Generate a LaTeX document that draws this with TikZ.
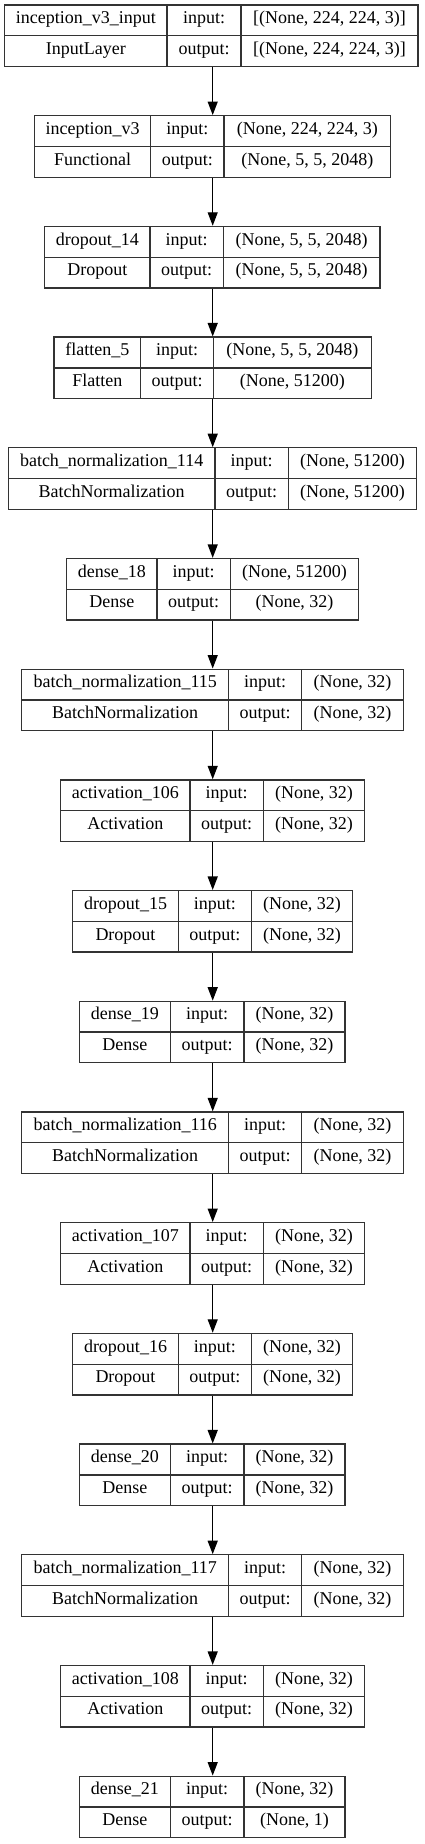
\documentclass[tikz,border=0pt]{standalone}
\usepackage{fontspec}
\setmainfont{Liberation Serif}
\usetikzlibrary{arrows.meta}
\tikzset{
  layer/.style={draw=black!80, line width=1.3pt, rectangle, inner sep=0pt, minimum height=61.5pt},
  cell/.style={draw=black!80, line width=1.3pt},
  txt/.style={inner sep=0pt, font=\fontsize{18}{20}\selectfont, text height=0.66em, text depth=0pt},
  flow/.style={draw=black, line width=1.3pt, -{Triangle[length=13.5pt,width=10pt]}}
}
\newcommand\layerbox[6]{%
  \pgfmathsetmacro\Ty{5+110.7*#2}%
  \pgfmathsetmacro\By{\Ty+61.5}%
  \pgfmathsetmacro\My{\Ty+30.75}%
  \pgfmathsetmacro\Cx{(#3+#4)/2}%
  \pgfmathsetmacro\Wd{#4-#3}%
  \pgfmathsetmacro\Xa{(#3+#5)/2}%
  \pgfmathsetmacro\Xb{(#5+#6)/2}%
  \pgfmathsetmacro\Xc{(#6+#4)/2}%
  \pgfmathsetmacro\Ya{(\Ty+\My)/2}%
  \pgfmathsetmacro\Yb{(\My+\By)/2}%
  \node[layer, minimum width=\Wd pt] (#1) at (\Cx pt,-\My pt) {};
  \draw[cell] (#5pt,-\Ty pt) -- (#5pt,-\By pt);
  \draw[cell] (#6pt,-\Ty pt) -- (#6pt,-\By pt);
  \draw[cell] (#3pt,-\My pt) -- (#4pt,-\My pt);
}
\newcommand\layertext[5]{%
  \node[txt] (#1-n) at (\Xa pt,-\Ya pt) {#2};
  \node[txt] (#1-i) at (\Xb pt,-\Ya pt) {input:};
  \node[txt] (#1-s) at (\Xc pt,-\Ya pt) {#4};
  \node[txt] (#1-c) at (\Xa pt,-\Yb pt) {#3};
  \node[txt] (#1-o) at (\Xb pt,-\Yb pt) {output:};
  \node[txt] (#1-t) at (\Xc pt,-\Yb pt) {#5};
}
\begin{document}
\begin{tikzpicture}
\useasboundingbox (0,0) rectangle (425pt,-1844pt);
\fill[white] (0,0) rectangle (425pt,-1844pt);

\layerbox{L1}{0}{4.7}{418}{167}{241}
\layertext{L1}{inception\_v3\_input}{InputLayer}{[(None, 224, 224, 3)]}{[(None, 224, 224, 3)]}
\layerbox{L2}{1}{34.7}{390.7}{150.7}{224}
\layertext{L2}{inception\_v3}{Functional}{(None, 224, 224, 3)}{(None, 5, 5, 2048)}
\layerbox{L3}{2}{44.7}{380}{150}{223.3}
\layertext{L3}{dropout\_14}{Dropout}{(None, 5, 5, 2048)}{(None, 5, 5, 2048)}
\layerbox{L4}{3}{54}{371.3}{140.7}{213.3}
\layertext{L4}{flatten\_5}{Flatten}{(None, 5, 5, 2048)}{(None, 51200)}
\layerbox{L5}{4}{8.3}{416.7}{215}{288.3}
\layertext{L5}{batch\_normalization\_114}{BatchNormalization}{(None, 51200)}{(None, 51200)}
\layerbox{L6}{5}{66.7}{358.7}{157}{230.3}
\layertext{L6}{dense\_18}{Dense}{(None, 51200)}{(None, 32)}
\layerbox{L7}{6}{21.7}{403.3}{228.7}{301.7}
\layertext{L7}{batch\_normalization\_115}{BatchNormalization}{(None, 32)}{(None, 32)}
\layerbox{L8}{7}{60.7}{364.7}{190}{263.3}
\layertext{L8}{activation\_106}{Activation}{(None, 32)}{(None, 32)}
\layerbox{L9}{8}{72.7}{352.7}{178.3}{251.3}
\layertext{L9}{dropout\_15}{Dropout}{(None, 32)}{(None, 32)}
\layerbox{L10}{9}{79.3}{345}{170.3}{244}
\layertext{L10}{dense\_19}{Dense}{(None, 32)}{(None, 32)}
\layerbox{L11}{10}{21.7}{403.3}{228.7}{301.7}
\layertext{L11}{batch\_normalization\_116}{BatchNormalization}{(None, 32)}{(None, 32)}
\layerbox{L12}{11}{60.7}{364.7}{190}{263.3}
\layertext{L12}{activation\_107}{Activation}{(None, 32)}{(None, 32)}
\layerbox{L13}{12}{72.7}{352.7}{178.3}{251.3}
\layertext{L13}{dropout\_16}{Dropout}{(None, 32)}{(None, 32)}
\layerbox{L14}{13}{79.3}{345}{170.3}{244}
\layertext{L14}{dense\_20}{Dense}{(None, 32)}{(None, 32)}
\layerbox{L15}{14}{21.7}{403.3}{228.7}{301.7}
\layertext{L15}{batch\_normalization\_117}{BatchNormalization}{(None, 32)}{(None, 32)}
\layerbox{L16}{15}{60.7}{364.7}{190}{263.3}
\layertext{L16}{activation\_108}{Activation}{(None, 32)}{(None, 32)}
\layerbox{L17}{16}{79.3}{345}{170.3}{244}
\layertext{L17}{dense\_21}{Dense}{(None, 32)}{(None, 1)}

\foreach \a/\b in {L1/L2,L2/L3,L3/L4,L4/L5,L5/L6,L6/L7,L7/L8,L8/L9,L9/L10,L10/L11,L11/L12,L12/L13,L13/L14,L14/L15,L15/L16,L16/L17}
  \draw[flow] (\a.south -| 212.7pt,0) -- (\b.north -| 212.7pt,0);
\end{tikzpicture}
\end{document}
